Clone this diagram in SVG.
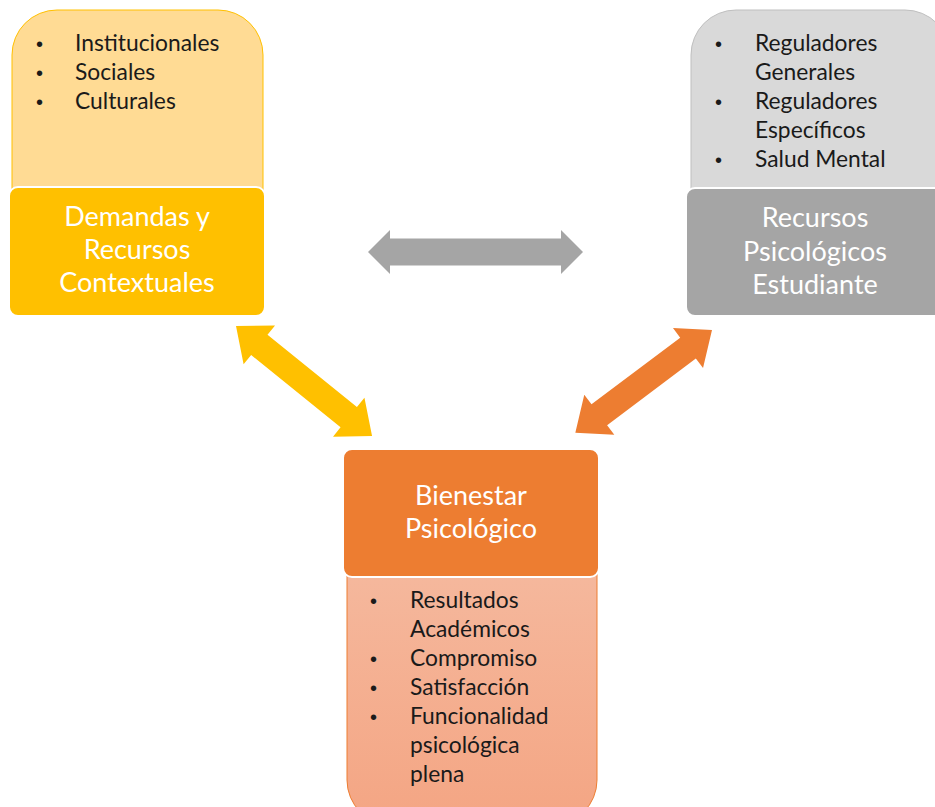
<svg xmlns="http://www.w3.org/2000/svg" width="935" height="807" viewBox="0 0 935 807">
<defs>
<linearGradient id="gOr" x1="0" y1="0" x2="0" y2="1">
<stop offset="0" stop-color="#F5B89D"/>
<stop offset="1" stop-color="#F4A583"/>
</linearGradient>
<style>
.bul{font-family:Lato,"Liberation Sans",sans-serif;font-size:22.8px;fill:#1a1a1a}
.dot{font-family:"Liberation Sans",sans-serif;font-size:20px;fill:#1a1a1a}
.ttl{font-family:Lato,"Liberation Sans",sans-serif;font-size:27px;fill:#ffffff;text-anchor:middle}
.box{stroke:#ffffff;stroke-width:2}
</style>
</defs>
<rect width="935" height="807" fill="#ffffff"/>
<g id="connectors">
<polygon fill="#A5A5A5" points="368,252 390,230 390,238.5 561,238.5 561,230 583,252 561,274 561,265.5 390,265.5 390,274"/>
<polygon fill="#FFC000" transform="translate(236,326) rotate(38.97)" points="0,0 30,-25 30,-13 145,-13 145,-25 175,0 145,25 145,13 30,13 30,25"/>
<polygon fill="#ED7D31" transform="translate(712,330) rotate(143.06)" points="0,0 30,-25 30,-13 141,-13 141,-25 171,0 141,25 141,13 30,13 30,25"/>
</g>
<g id="node-demandas">
<path d="M12,190 V55 A45,45 0 0 1 57,10 H218 A45,45 0 0 1 263,55 V190 Z" fill="#FFDB94" stroke="#FFC000" stroke-width="1"/>
<rect class="box" x="9" y="187" width="256" height="129" rx="9" fill="#FFC000"/>
<text class="dot" x="36" y="51">•</text><text class="bul" x="75" y="51">Institucionales</text>
<text class="dot" x="36" y="80">•</text><text class="bul" x="75" y="80">Sociales</text>
<text class="dot" x="36" y="109">•</text><text class="bul" x="75" y="109">Culturales</text>
<text class="ttl" x="137" y="226">Demandas y</text>
<text class="ttl" x="137" y="259">Recursos</text>
<text class="ttl" x="137" y="292">Contextuales</text>
</g>
<g id="node-recursos">
<path d="M691,190 V55 A45,45 0 0 1 736,10 H905 A45,45 0 0 1 950,55 V190 Z" fill="#D9D9D9" stroke="#BFBFBF" stroke-width="1"/>
<rect class="box" x="686" y="188" width="270" height="128" rx="9" fill="#A5A5A5"/>
<text class="dot" x="715" y="51">•</text><text class="bul" x="755" y="51">Reguladores</text>
<text class="bul" x="755" y="80">Generales</text>
<text class="dot" x="715" y="109">•</text><text class="bul" x="755" y="109">Reguladores</text>
<text class="bul" x="755" y="138">Específicos</text>
<text class="dot" x="715" y="167">•</text><text class="bul" x="755" y="167">Salud Mental</text>
<text class="ttl" x="815" y="227">Recursos</text>
<text class="ttl" x="815" y="261">Psicológicos</text>
<text class="ttl" x="815" y="294">Estudiante</text>
</g>
<g id="node-bienestar">
<path d="M347,570 H597 V780 A45,45 0 0 1 552,825 H392 A45,45 0 0 1 347,780 Z" fill="url(#gOr)" stroke="#ED7D31" stroke-width="1"/>
<rect class="box" x="343" y="449" width="256" height="128" rx="9" fill="#ED7D31"/>
<text class="ttl" x="471" y="505">Bienestar</text>
<text class="ttl" x="471" y="538">Psicológico</text>
<text class="dot" x="370" y="608">•</text><text class="bul" x="410" y="608">Resultados</text>
<text class="bul" x="410" y="637">Académicos</text>
<text class="dot" x="370" y="666">•</text><text class="bul" x="410" y="666">Compromiso</text>
<text class="dot" x="370" y="695">•</text><text class="bul" x="410" y="695">Satisfacción</text>
<text class="dot" x="370" y="724">•</text><text class="bul" x="410" y="724">Funcionalidad</text>
<text class="bul" x="410" y="753">psicológica</text>
<text class="bul" x="410" y="782">plena</text>
</g>
</svg>
